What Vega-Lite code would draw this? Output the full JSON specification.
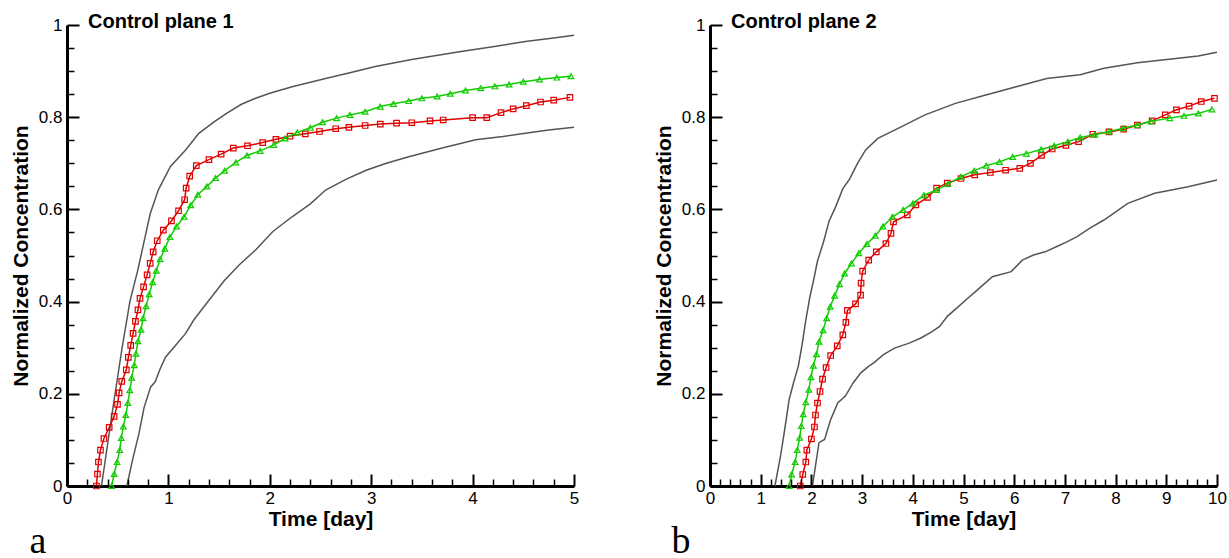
{
  "$schema": "https://vega.github.io/schema/vega-lite/v6.json",
  "padding": {"left": 10, "top": 12, "right": 5, "bottom": 0},
  "datasets": {
    "p1": [
      {"t":0.34,"c":0,"s":"upper"},{"t":0.45,"c":0.165,"s":"upper"},{"t":0.54,"c":0.295,"s":"upper"},{"t":0.62,"c":0.40,"s":"upper"},{"t":0.70,"c":0.47,"s":"upper"},{"t":0.76,"c":0.53,"s":"upper"},{"t":0.82,"c":0.59,"s":"upper"},{"t":0.90,"c":0.642,"s":"upper"},{"t":1.02,"c":0.693,"s":"upper"},{"t":1.17,"c":0.729,"s":"upper"},{"t":1.30,"c":0.765,"s":"upper"},{"t":1.45,"c":0.79,"s":"upper"},{"t":1.57,"c":0.808,"s":"upper"},{"t":1.72,"c":0.828,"s":"upper"},{"t":1.86,"c":0.841,"s":"upper"},{"t":2.0,"c":0.852,"s":"upper"},{"t":2.22,"c":0.866,"s":"upper"},{"t":2.55,"c":0.884,"s":"upper"},{"t":2.80,"c":0.897,"s":"upper"},{"t":3.04,"c":0.91,"s":"upper"},{"t":3.40,"c":0.925,"s":"upper"},{"t":3.87,"c":0.942,"s":"upper"},{"t":4.20,"c":0.953,"s":"upper"},{"t":4.52,"c":0.964,"s":"upper"},{"t":4.80,"c":0.972,"s":"upper"},{"t":5.0,"c":0.978,"s":"upper"},
      {"t":0.59,"c":0,"s":"lower"},{"t":0.65,"c":0.06,"s":"lower"},{"t":0.71,"c":0.114,"s":"lower"},{"t":0.76,"c":0.17,"s":"lower"},{"t":0.825,"c":0.215,"s":"lower"},{"t":0.87,"c":0.226,"s":"lower"},{"t":0.92,"c":0.255,"s":"lower"},{"t":0.973,"c":0.28,"s":"lower"},{"t":1.07,"c":0.305,"s":"lower"},{"t":1.17,"c":0.331,"s":"lower"},{"t":1.25,"c":0.36,"s":"lower"},{"t":1.40,"c":0.403,"s":"lower"},{"t":1.55,"c":0.445,"s":"lower"},{"t":1.70,"c":0.48,"s":"lower"},{"t":1.86,"c":0.512,"s":"lower"},{"t":2.03,"c":0.552,"s":"lower"},{"t":2.22,"c":0.584,"s":"lower"},{"t":2.40,"c":0.612,"s":"lower"},{"t":2.55,"c":0.642,"s":"lower"},{"t":2.75,"c":0.665,"s":"lower"},{"t":2.95,"c":0.685,"s":"lower"},{"t":3.15,"c":0.70,"s":"lower"},{"t":3.37,"c":0.714,"s":"lower"},{"t":3.70,"c":0.733,"s":"lower"},{"t":4.03,"c":0.751,"s":"lower"},{"t":4.30,"c":0.758,"s":"lower"},{"t":4.52,"c":0.765,"s":"lower"},{"t":4.75,"c":0.772,"s":"lower"},{"t":5.0,"c":0.778,"s":"lower"},
      {"t":0.29,"c":0,"s":"red"},{"t":0.30,"c":0.026,"s":"red"},{"t":0.31,"c":0.052,"s":"red"},{"t":0.33,"c":0.078,"s":"red"},{"t":0.364,"c":0.103,"s":"red"},{"t":0.416,"c":0.127,"s":"red"},{"t":0.465,"c":0.151,"s":"red"},{"t":0.498,"c":0.177,"s":"red"},{"t":0.514,"c":0.202,"s":"red"},{"t":0.54,"c":0.227,"s":"red"},{"t":0.585,"c":0.252,"s":"red"},{"t":0.605,"c":0.279,"s":"red"},{"t":0.628,"c":0.305,"s":"red"},{"t":0.652,"c":0.331,"s":"red"},{"t":0.675,"c":0.357,"s":"red"},{"t":0.70,"c":0.382,"s":"red"},{"t":0.72,"c":0.407,"s":"red"},{"t":0.755,"c":0.432,"s":"red"},{"t":0.79,"c":0.458,"s":"red"},{"t":0.82,"c":0.483,"s":"red"},{"t":0.85,"c":0.508,"s":"red"},{"t":0.89,"c":0.532,"s":"red"},{"t":0.95,"c":0.555,"s":"red"},{"t":1.03,"c":0.575,"s":"red"},{"t":1.10,"c":0.597,"s":"red"},{"t":1.16,"c":0.621,"s":"red"},{"t":1.175,"c":0.646,"s":"red"},{"t":1.21,"c":0.672,"s":"red"},{"t":1.275,"c":0.695,"s":"red"},{"t":1.40,"c":0.708,"s":"red"},{"t":1.52,"c":0.72,"s":"red"},{"t":1.64,"c":0.733,"s":"red"},{"t":1.78,"c":0.738,"s":"red"},{"t":1.93,"c":0.745,"s":"red"},{"t":2.06,"c":0.752,"s":"red"},{"t":2.20,"c":0.759,"s":"red"},{"t":2.35,"c":0.764,"s":"red"},{"t":2.49,"c":0.769,"s":"red"},{"t":2.65,"c":0.775,"s":"red"},{"t":2.78,"c":0.778,"s":"red"},{"t":2.94,"c":0.782,"s":"red"},{"t":3.09,"c":0.785,"s":"red"},{"t":3.25,"c":0.787,"s":"red"},{"t":3.40,"c":0.788,"s":"red"},{"t":3.58,"c":0.792,"s":"red"},{"t":3.71,"c":0.794,"s":"red"},{"t":4.00,"c":0.799,"s":"red"},{"t":4.14,"c":0.799,"s":"red"},{"t":4.28,"c":0.81,"s":"red"},{"t":4.40,"c":0.818,"s":"red"},{"t":4.53,"c":0.825,"s":"red"},{"t":4.67,"c":0.833,"s":"red"},{"t":4.80,"c":0.837,"s":"red"},{"t":4.96,"c":0.843,"s":"red"},
      {"t":0.44,"c":0,"s":"green"},{"t":0.465,"c":0.026,"s":"green"},{"t":0.494,"c":0.052,"s":"green"},{"t":0.52,"c":0.078,"s":"green"},{"t":0.535,"c":0.104,"s":"green"},{"t":0.556,"c":0.129,"s":"green"},{"t":0.58,"c":0.154,"s":"green"},{"t":0.60,"c":0.18,"s":"green"},{"t":0.62,"c":0.208,"s":"green"},{"t":0.638,"c":0.235,"s":"green"},{"t":0.663,"c":0.262,"s":"green"},{"t":0.68,"c":0.287,"s":"green"},{"t":0.70,"c":0.314,"s":"green"},{"t":0.73,"c":0.339,"s":"green"},{"t":0.75,"c":0.364,"s":"green"},{"t":0.78,"c":0.39,"s":"green"},{"t":0.81,"c":0.416,"s":"green"},{"t":0.845,"c":0.442,"s":"green"},{"t":0.88,"c":0.467,"s":"green"},{"t":0.918,"c":0.492,"s":"green"},{"t":0.965,"c":0.515,"s":"green"},{"t":1.015,"c":0.54,"s":"green"},{"t":1.08,"c":0.563,"s":"green"},{"t":1.155,"c":0.584,"s":"green"},{"t":1.22,"c":0.609,"s":"green"},{"t":1.29,"c":0.632,"s":"green"},{"t":1.38,"c":0.65,"s":"green"},{"t":1.465,"c":0.668,"s":"green"},{"t":1.555,"c":0.684,"s":"green"},{"t":1.665,"c":0.702,"s":"green"},{"t":1.775,"c":0.717,"s":"green"},{"t":1.905,"c":0.727,"s":"green"},{"t":2.04,"c":0.74,"s":"green"},{"t":2.15,"c":0.754,"s":"green"},{"t":2.27,"c":0.767,"s":"green"},{"t":2.40,"c":0.777,"s":"green"},{"t":2.52,"c":0.789,"s":"green"},{"t":2.66,"c":0.798,"s":"green"},{"t":2.79,"c":0.805,"s":"green"},{"t":2.94,"c":0.812,"s":"green"},{"t":3.09,"c":0.823,"s":"green"},{"t":3.22,"c":0.829,"s":"green"},{"t":3.37,"c":0.835,"s":"green"},{"t":3.50,"c":0.841,"s":"green"},{"t":3.65,"c":0.845,"s":"green"},{"t":3.78,"c":0.851,"s":"green"},{"t":3.93,"c":0.858,"s":"green"},{"t":4.08,"c":0.863,"s":"green"},{"t":4.22,"c":0.867,"s":"green"},{"t":4.36,"c":0.871,"s":"green"},{"t":4.50,"c":0.877,"s":"green"},{"t":4.66,"c":0.882,"s":"green"},{"t":4.83,"c":0.886,"s":"green"},{"t":4.97,"c":0.889,"s":"green"}
    ],
    "p2": [
      {"t":1.28,"c":0,"s":"upper"},{"t":1.39,"c":0.064,"s":"upper"},{"t":1.47,"c":0.12,"s":"upper"},{"t":1.56,"c":0.187,"s":"upper"},{"t":1.65,"c":0.225,"s":"upper"},{"t":1.74,"c":0.259,"s":"upper"},{"t":1.82,"c":0.309,"s":"upper"},{"t":1.89,"c":0.36,"s":"upper"},{"t":1.97,"c":0.41,"s":"upper"},{"t":2.05,"c":0.45,"s":"upper"},{"t":2.12,"c":0.488,"s":"upper"},{"t":2.24,"c":0.53,"s":"upper"},{"t":2.35,"c":0.575,"s":"upper"},{"t":2.48,"c":0.606,"s":"upper"},{"t":2.62,"c":0.645,"s":"upper"},{"t":2.75,"c":0.665,"s":"upper"},{"t":2.91,"c":0.70,"s":"upper"},{"t":3.07,"c":0.729,"s":"upper"},{"t":3.31,"c":0.754,"s":"upper"},{"t":3.77,"c":0.779,"s":"upper"},{"t":4.24,"c":0.805,"s":"upper"},{"t":4.84,"c":0.83,"s":"upper"},{"t":5.44,"c":0.848,"s":"upper"},{"t":6.04,"c":0.866,"s":"upper"},{"t":6.64,"c":0.884,"s":"upper"},{"t":7.30,"c":0.892,"s":"upper"},{"t":7.77,"c":0.906,"s":"upper"},{"t":8.43,"c":0.918,"s":"upper"},{"t":9.10,"c":0.926,"s":"upper"},{"t":9.63,"c":0.933,"s":"upper"},{"t":10.0,"c":0.941,"s":"upper"},
      {"t":2.02,"c":0,"s":"lower"},{"t":2.08,"c":0.043,"s":"lower"},{"t":2.15,"c":0.094,"s":"lower"},{"t":2.26,"c":0.101,"s":"lower"},{"t":2.38,"c":0.144,"s":"lower"},{"t":2.52,"c":0.18,"s":"lower"},{"t":2.67,"c":0.195,"s":"lower"},{"t":2.82,"c":0.223,"s":"lower"},{"t":2.97,"c":0.245,"s":"lower"},{"t":3.12,"c":0.259,"s":"lower"},{"t":3.23,"c":0.267,"s":"lower"},{"t":3.42,"c":0.285,"s":"lower"},{"t":3.64,"c":0.299,"s":"lower"},{"t":3.93,"c":0.31,"s":"lower"},{"t":4.16,"c":0.321,"s":"lower"},{"t":4.38,"c":0.335,"s":"lower"},{"t":4.53,"c":0.346,"s":"lower"},{"t":4.68,"c":0.368,"s":"lower"},{"t":4.9,"c":0.389,"s":"lower"},{"t":5.05,"c":0.404,"s":"lower"},{"t":5.27,"c":0.425,"s":"lower"},{"t":5.57,"c":0.454,"s":"lower"},{"t":5.94,"c":0.465,"s":"lower"},{"t":6.16,"c":0.49,"s":"lower"},{"t":6.38,"c":0.501,"s":"lower"},{"t":6.61,"c":0.508,"s":"lower"},{"t":6.83,"c":0.519,"s":"lower"},{"t":7.05,"c":0.53,"s":"lower"},{"t":7.24,"c":0.541,"s":"lower"},{"t":7.50,"c":0.56,"s":"lower"},{"t":7.77,"c":0.577,"s":"lower"},{"t":8.24,"c":0.613,"s":"lower"},{"t":8.77,"c":0.635,"s":"lower"},{"t":9.10,"c":0.642,"s":"lower"},{"t":9.43,"c":0.649,"s":"lower"},{"t":10.0,"c":0.664,"s":"lower"},
      {"t":1.78,"c":0,"s":"red"},{"t":1.83,"c":0.025,"s":"red"},{"t":1.89,"c":0.052,"s":"red"},{"t":1.91,"c":0.078,"s":"red"},{"t":2.0,"c":0.102,"s":"red"},{"t":2.06,"c":0.128,"s":"red"},{"t":2.08,"c":0.154,"s":"red"},{"t":2.12,"c":0.18,"s":"red"},{"t":2.17,"c":0.205,"s":"red"},{"t":2.22,"c":0.232,"s":"red"},{"t":2.29,"c":0.257,"s":"red"},{"t":2.38,"c":0.283,"s":"red"},{"t":2.51,"c":0.304,"s":"red"},{"t":2.62,"c":0.328,"s":"red"},{"t":2.68,"c":0.355,"s":"red"},{"t":2.71,"c":0.381,"s":"red"},{"t":2.87,"c":0.395,"s":"red"},{"t":2.97,"c":0.414,"s":"red"},{"t":2.98,"c":0.44,"s":"red"},{"t":3.01,"c":0.466,"s":"red"},{"t":3.13,"c":0.49,"s":"red"},{"t":3.28,"c":0.508,"s":"red"},{"t":3.47,"c":0.526,"s":"red"},{"t":3.57,"c":0.548,"s":"red"},{"t":3.62,"c":0.573,"s":"red"},{"t":3.89,"c":0.588,"s":"red"},{"t":4.06,"c":0.61,"s":"red"},{"t":4.29,"c":0.626,"s":"red"},{"t":4.47,"c":0.646,"s":"red"},{"t":4.68,"c":0.657,"s":"red"},{"t":4.95,"c":0.667,"s":"red"},{"t":5.22,"c":0.675,"s":"red"},{"t":5.53,"c":0.68,"s":"red"},{"t":5.83,"c":0.685,"s":"red"},{"t":6.11,"c":0.689,"s":"red"},{"t":6.32,"c":0.70,"s":"red"},{"t":6.54,"c":0.717,"s":"red"},{"t":6.75,"c":0.731,"s":"red"},{"t":7.02,"c":0.739,"s":"red"},{"t":7.27,"c":0.747,"s":"red"},{"t":7.55,"c":0.763,"s":"red"},{"t":7.87,"c":0.768,"s":"red"},{"t":8.16,"c":0.774,"s":"red"},{"t":8.43,"c":0.783,"s":"red"},{"t":8.72,"c":0.792,"s":"red"},{"t":8.98,"c":0.805,"s":"red"},{"t":9.20,"c":0.816,"s":"red"},{"t":9.45,"c":0.824,"s":"red"},{"t":9.69,"c":0.834,"s":"red"},{"t":9.95,"c":0.841,"s":"red"},
      {"t":1.56,"c":0,"s":"green"},{"t":1.61,"c":0.025,"s":"green"},{"t":1.68,"c":0.052,"s":"green"},{"t":1.72,"c":0.078,"s":"green"},{"t":1.77,"c":0.105,"s":"green"},{"t":1.80,"c":0.13,"s":"green"},{"t":1.84,"c":0.156,"s":"green"},{"t":1.89,"c":0.182,"s":"green"},{"t":1.95,"c":0.209,"s":"green"},{"t":1.99,"c":0.236,"s":"green"},{"t":2.04,"c":0.261,"s":"green"},{"t":2.10,"c":0.286,"s":"green"},{"t":2.15,"c":0.313,"s":"green"},{"t":2.23,"c":0.338,"s":"green"},{"t":2.30,"c":0.364,"s":"green"},{"t":2.37,"c":0.389,"s":"green"},{"t":2.46,"c":0.413,"s":"green"},{"t":2.555,"c":0.438,"s":"green"},{"t":2.655,"c":0.461,"s":"green"},{"t":2.79,"c":0.483,"s":"green"},{"t":2.935,"c":0.505,"s":"green"},{"t":3.095,"c":0.525,"s":"green"},{"t":3.26,"c":0.543,"s":"green"},{"t":3.41,"c":0.563,"s":"green"},{"t":3.60,"c":0.584,"s":"green"},{"t":3.81,"c":0.599,"s":"green"},{"t":4.0,"c":0.613,"s":"green"},{"t":4.22,"c":0.631,"s":"green"},{"t":4.47,"c":0.642,"s":"green"},{"t":4.69,"c":0.655,"s":"green"},{"t":4.95,"c":0.671,"s":"green"},{"t":5.21,"c":0.684,"s":"green"},{"t":5.45,"c":0.695,"s":"green"},{"t":5.71,"c":0.703,"s":"green"},{"t":5.97,"c":0.714,"s":"green"},{"t":6.24,"c":0.721,"s":"green"},{"t":6.53,"c":0.73,"s":"green"},{"t":6.79,"c":0.738,"s":"green"},{"t":7.06,"c":0.747,"s":"green"},{"t":7.30,"c":0.756,"s":"green"},{"t":7.59,"c":0.762,"s":"green"},{"t":7.87,"c":0.769,"s":"green"},{"t":8.15,"c":0.776,"s":"green"},{"t":8.43,"c":0.783,"s":"green"},{"t":8.70,"c":0.791,"s":"green"},{"t":9.07,"c":0.798,"s":"green"},{"t":9.35,"c":0.803,"s":"green"},{"t":9.63,"c":0.808,"s":"green"},{"t":9.90,"c":0.817,"s":"green"}
    ]
  },
  "spacing": 74,
  "hconcat": [
    {
      "width": 507,
      "height": 461,
      "data": {"name": "p1"},
      "title": {"text": "Control plane 1", "orient": "top", "anchor": "start", "frame": "group", "dx": 21, "offset": -32, "baseline": "alphabetic", "font": "Liberation Sans", "fontSize": 20, "fontWeight": "bold", "color": "#000"},
      "resolve": {"axis": {"x": "independent", "y": "independent"}},
      "layer": [
        {
          "transform": [{"filter": "datum.s == 'upper' || datum.s == 'lower'"}],
          "mark": {"type": "line", "color": "#555555", "strokeWidth": 1.5},
          "encoding": {
            "x": {"field": "t", "type": "quantitative", "scale": {"domain": [0, 5]},
              "axis": {"orient": "bottom", "values": [0, 1, 2, 3, 4, 5], "ticks": false, "labelPadding": 4, "labelFlush": false, "labelFont": "Liberation Sans", "labelFontSize": 17, "labelColor": "#000", "domainWidth": 3, "domainColor": "#000", "grid": false, "title": "Time [day]", "titlePadding": 2, "titleFont": "Liberation Sans", "titleFontSize": 21, "titleFontWeight": "bold", "titleColor": "#000"}},
            "y": {"field": "c", "type": "quantitative", "scale": {"domain": [0, 1]},
              "axis": {"orient": "left", "values": [0, 0.2, 0.4, 0.6, 0.8, 1], "labelExpr": "datum.value == 0 ? '0' : datum.value == 1 ? '1' : datum.label", "ticks": false, "labelPadding": 5, "labelFlush": false, "labelFont": "Liberation Sans", "labelFontSize": 17, "labelColor": "#000", "domainWidth": 3, "domainColor": "#000", "grid": false, "title": "Normalized Concentration", "titlePadding": 7, "titleFont": "Liberation Sans", "titleFontSize": 21, "titleFontWeight": "bold", "titleColor": "#000"}},
            "detail": {"field": "s"}
          }
        },
        {
          "transform": [{"filter": "datum.s == 'red'"}],
          "mark": {"type": "line", "color": "#e00000", "strokeWidth": 1.5, "point": {"shape": "square", "filled": false, "size": 30, "strokeWidth": 1.2, "color": "#e00000"}},
          "encoding": {
            "x": {"field": "t", "type": "quantitative", "scale": {"domain": [0, 5]},
              "axis": {"orient": "bottom", "offset": -12, "zindex": 1, "values": [0, 1, 2, 3, 4, 5], "labels": false, "domain": false, "tickSize": 12, "tickWidth": 2, "tickColor": "#000", "grid": false,
                "title": "a", "titleX": -38, "titleY": 78, "titleAlign": "left", "titleBaseline": "alphabetic", "titleColor": "#000", "titleFont": "Liberation Serif", "titleFontSize": 38, "titleFontWeight": "normal"}},
            "y": {"field": "c", "type": "quantitative", "scale": {"domain": [0, 1]},
              "axis": {"orient": "left", "offset": -12, "zindex": 1, "values": [0, 0.2, 0.4, 0.6, 0.8, 1], "labels": false, "domain": false, "tickSize": 12, "tickWidth": 2, "tickColor": "#000", "grid": false, "title": null}}
          }
        },
        {
          "transform": [{"filter": "datum.s == 'green'"}],
          "mark": {"type": "line", "color": "#11cc00", "strokeWidth": 1.5, "point": {"shape": "triangle-up", "filled": false, "size": 32, "strokeWidth": 1.2, "color": "#11cc00"}},
          "encoding": {
            "x": {"field": "t", "type": "quantitative", "scale": {"domain": [0, 5]},
              "axis": {"orient": "bottom", "offset": -7, "zindex": 1, "values": [0.2, 0.4, 0.6, 0.8, 1.2, 1.4, 1.6, 1.8, 2.2, 2.4, 2.6, 2.8, 3.2, 3.4, 3.6, 3.8, 4.2, 4.4, 4.6, 4.8], "labels": false, "domain": false, "tickSize": 7, "tickWidth": 1.5, "tickColor": "#000", "grid": false, "title": null}},
            "y": {"field": "c", "type": "quantitative", "scale": {"domain": [0, 1]},
              "axis": {"orient": "left", "offset": -7, "zindex": 1, "values": [0.05, 0.1, 0.15, 0.25, 0.3, 0.35, 0.45, 0.5, 0.55, 0.65, 0.7, 0.75, 0.85, 0.9, 0.95], "labels": false, "domain": false, "tickSize": 7, "tickWidth": 1.5, "tickColor": "#000", "grid": false, "title": null}}
          }
        }
      ]
    },
    {
      "width": 507,
      "height": 461,
      "data": {"name": "p2"},
      "title": {"text": "Control plane 2", "orient": "top", "anchor": "start", "frame": "group", "dx": 21, "offset": -32, "baseline": "alphabetic", "font": "Liberation Sans", "fontSize": 20, "fontWeight": "bold", "color": "#000"},
      "resolve": {"axis": {"x": "independent", "y": "independent"}},
      "layer": [
        {
          "transform": [{"filter": "datum.s == 'upper' || datum.s == 'lower'"}],
          "mark": {"type": "line", "color": "#555555", "strokeWidth": 1.5},
          "encoding": {
            "x": {"field": "t", "type": "quantitative", "scale": {"domain": [0, 10]},
              "axis": {"orient": "bottom", "values": [0, 1, 2, 3, 4, 5, 6, 7, 8, 9, 10], "ticks": false, "labelPadding": 4, "labelFlush": false, "labelFont": "Liberation Sans", "labelFontSize": 17, "labelColor": "#000", "domainWidth": 3, "domainColor": "#000", "grid": false, "title": "Time [day]", "titlePadding": 2, "titleFont": "Liberation Sans", "titleFontSize": 21, "titleFontWeight": "bold", "titleColor": "#000"}},
            "y": {"field": "c", "type": "quantitative", "scale": {"domain": [0, 1]},
              "axis": {"orient": "left", "values": [0, 0.2, 0.4, 0.6, 0.8, 1], "labelExpr": "datum.value == 0 ? '0' : datum.value == 1 ? '1' : datum.label", "ticks": false, "labelPadding": 5, "labelFlush": false, "labelFont": "Liberation Sans", "labelFontSize": 17, "labelColor": "#000", "domainWidth": 3, "domainColor": "#000", "grid": false, "title": "Normalized Concentration", "titlePadding": 7, "titleFont": "Liberation Sans", "titleFontSize": 21, "titleFontWeight": "bold", "titleColor": "#000"}},
            "detail": {"field": "s"}
          }
        },
        {
          "transform": [{"filter": "datum.s == 'red'"}],
          "mark": {"type": "line", "color": "#e00000", "strokeWidth": 1.5, "point": {"shape": "square", "filled": false, "size": 30, "strokeWidth": 1.2, "color": "#e00000"}},
          "encoding": {
            "x": {"field": "t", "type": "quantitative", "scale": {"domain": [0, 10]},
              "axis": {"orient": "bottom", "offset": -12, "zindex": 1, "values": [0, 1, 2, 3, 4, 5, 6, 7, 8, 9, 10], "labels": false, "domain": false, "tickSize": 12, "tickWidth": 2, "tickColor": "#000", "grid": false,
                "title": "b", "titleX": -39, "titleY": 78, "titleAlign": "left", "titleBaseline": "alphabetic", "titleColor": "#000", "titleFont": "Liberation Serif", "titleFontSize": 38, "titleFontWeight": "normal"}},
            "y": {"field": "c", "type": "quantitative", "scale": {"domain": [0, 1]},
              "axis": {"orient": "left", "offset": -12, "zindex": 1, "values": [0, 0.2, 0.4, 0.6, 0.8, 1], "labels": false, "domain": false, "tickSize": 12, "tickWidth": 2, "tickColor": "#000", "grid": false, "title": null}}
          }
        },
        {
          "transform": [{"filter": "datum.s == 'green'"}],
          "mark": {"type": "line", "color": "#11cc00", "strokeWidth": 1.5, "point": {"shape": "triangle-up", "filled": false, "size": 32, "strokeWidth": 1.2, "color": "#11cc00"}},
          "encoding": {
            "x": {"field": "t", "type": "quantitative", "scale": {"domain": [0, 10]},
              "axis": {"orient": "bottom", "offset": -7, "zindex": 1, "values": [0.2, 0.4, 0.6, 0.8, 1.2, 1.4, 1.6, 1.8, 2.2, 2.4, 2.6, 2.8, 3.2, 3.4, 3.6, 3.8, 4.2, 4.4, 4.6, 4.8, 5.2, 5.4, 5.6, 5.8, 6.2, 6.4, 6.6, 6.8, 7.2, 7.4, 7.6, 7.8, 8.2, 8.4, 8.6, 8.8, 9.2, 9.4, 9.6, 9.8], "labels": false, "domain": false, "tickSize": 7, "tickWidth": 1.5, "tickColor": "#000", "grid": false, "title": null}},
            "y": {"field": "c", "type": "quantitative", "scale": {"domain": [0, 1]},
              "axis": {"orient": "left", "offset": -7, "zindex": 1, "values": [0.05, 0.1, 0.15, 0.25, 0.3, 0.35, 0.45, 0.5, 0.55, 0.65, 0.7, 0.75, 0.85, 0.9, 0.95], "labels": false, "domain": false, "tickSize": 7, "tickWidth": 1.5, "tickColor": "#000", "grid": false, "title": null}}
          }
        }
      ]
    }
  ],
  "config": {
    "view": {"stroke": null},
    "font": "Liberation Sans"
  }
}
